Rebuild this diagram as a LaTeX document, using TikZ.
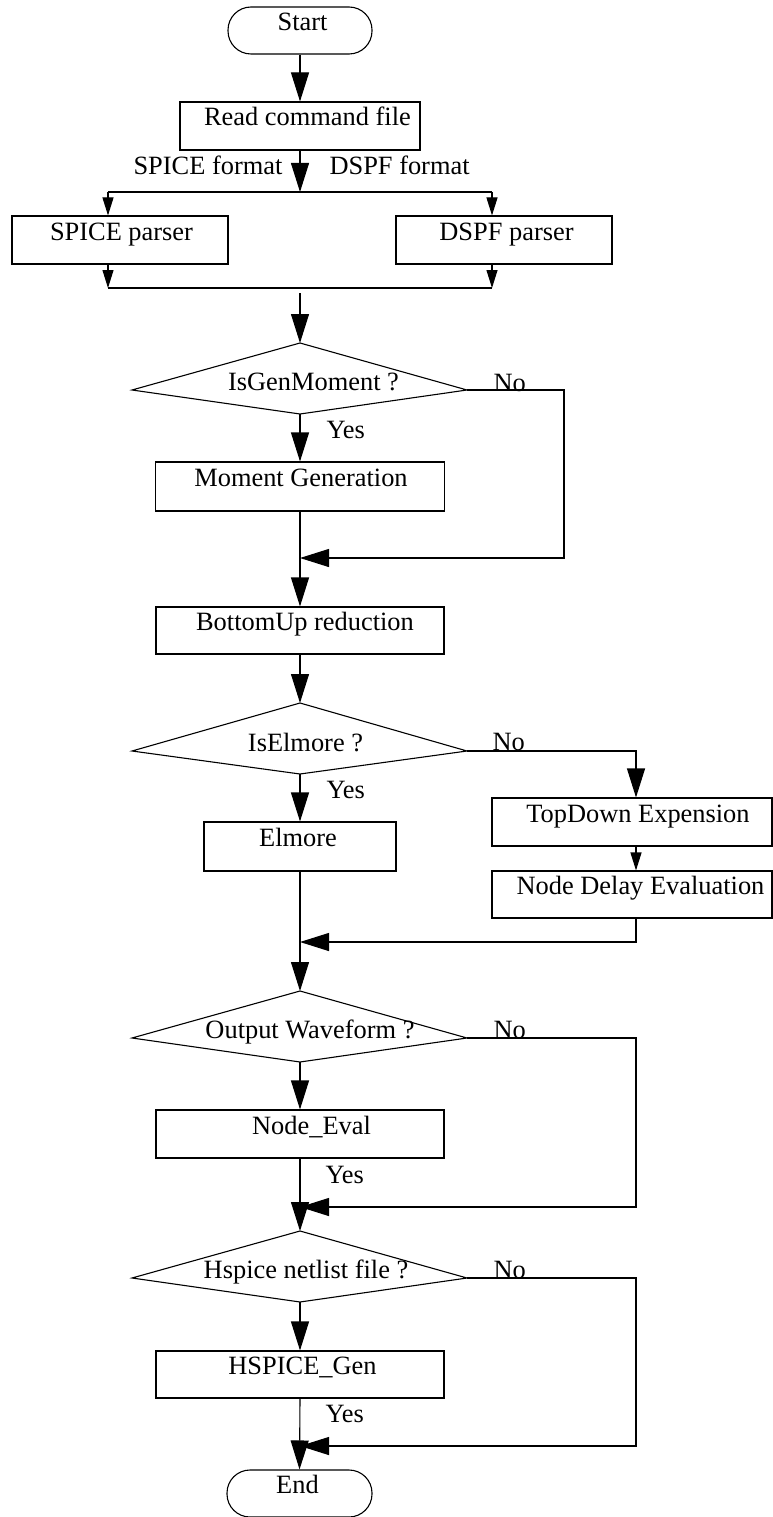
\documentclass[tikz,border=0pt]{standalone}
\usepackage{fontspec}
\setmainfont{Liberation Serif}
\usetikzlibrary{arrows.meta}
\newcommand\fsz{\fontsize{26.4pt}{30pt}\selectfont}
\begin{document}
\begin{tikzpicture}[x=1pt,y=-1pt,line width=1.1pt,
  every node/.style={font=\fsz},
  box/.style={draw,rectangle,inner sep=0pt,text height=10pt,text depth=10pt},
  term/.style={box,rounded corners=23pt},
  lbl/.style={anchor=base west,inner sep=0pt},
  qtxt/.style={anchor=base,inner sep=0pt},
  big/.style={-{Triangle[length=29pt,width=18pt]}},
  small/.style={-{Triangle[length=18pt,width=11pt]}},
  dia/.style={line join=miter}
]
\useasboundingbox (0,0) rectangle (773,1517);

% ---- nodes
\node[term,minimum width=144pt,minimum height=47pt] (start) at (300,30.5) {\hspace*{5pt}Start};
\node[box,minimum width=240pt,minimum height=48pt] (read) at (300,126) {\hspace*{15pt}Read command file};
\node[box,minimum width=216pt,minimum height=48pt] (spice) at (120,240) {\hspace*{3pt}SPICE parser};
\node[box,minimum width=216pt,minimum height=48pt] (dspf) at (504,240) {\hspace*{5pt}DSPF parser};
\node[box,minimum width=289pt,minimum height=49pt] (mg) at (300,486.5) {\hspace*{2pt}Moment Generation};
\node[box,minimum width=288pt,minimum height=47pt] (bu) at (300,630.5) {\hspace*{10pt}BottomUp reduction};
\node[box,minimum width=192pt,minimum height=49pt] (elm) at (300,846.5) {Elmore\hspace*{4pt}};
\node[box,minimum width=280pt,minimum height=48pt] (td) at (632,822) {\hspace*{12pt}TopDown Expension};
\node[box,minimum width=280pt,minimum height=47pt] (nd) at (632,894.5) {\hspace*{17pt}Node Delay Evaluation};
\node[box,minimum width=288pt,minimum height=48pt] (ne) at (300,1134) {\hspace*{23pt}Node\_Eval};
\node[box,minimum width=288pt,minimum height=47pt] (hg) at (300,1374.5) {\hspace*{5pt}HSPICE\_Gen};
\node[term,minimum width=145pt,minimum height=47pt] (end) at (299.5,1493.5) {End\hspace*{4pt}};

% ---- decisions
\coordinate (d1t) at (300,343); \coordinate (d1l) at (132,390);
\coordinate (d1r) at (467,390); \coordinate (d1b) at (300,414);
\draw[dia] (d1t) -- (d1r) -- (d1b) -- (d1l) -- cycle;
\node[qtxt] (q1) at (313.5,390) {IsGenMoment ?};

\coordinate (d2t) at (300,703); \coordinate (d2l) at (132,751);
\coordinate (d2r) at (467,751); \coordinate (d2b) at (300,774);
\draw[dia] (d2t) -- (d2r) -- (d2b) -- (d2l) -- cycle;
\node[qtxt] (q2) at (305.5,751) {IsElmore ?};

\coordinate (d3t) at (300,991); \coordinate (d3l) at (132,1038);
\coordinate (d3r) at (467,1038); \coordinate (d3b) at (300,1062);
\draw[dia] (d3t) -- (d3r) -- (d3b) -- (d3l) -- cycle;
\node[qtxt] (q3) at (310,1038) {Output Waveform ?};

\coordinate (d4t) at (300,1231); \coordinate (d4l) at (132,1278);
\coordinate (d4r) at (467,1278); \coordinate (d4b) at (300,1302);
\draw[dia] (d4t) -- (d4r) -- (d4b) -- (d4l) -- cycle;
\node[qtxt] (q4) at (306,1278) {Hspice netlist file ?};

% ---- helper coordinates
\coordinate (split) at (300,192);
\coordinate (sl) at (108,192); \coordinate (sr) at (492,192);
\coordinate (ml) at (108,288); \coordinate (mr) at (492,288);
\coordinate (mstart) at (300,293);
\coordinate (j1) at (300,558); \coordinate (c1) at (564,390);
\coordinate (j2) at (300,942); \coordinate (c2) at (636,942);
\coordinate (j3) at (300,1207); \coordinate (c3) at (636,1038);
\coordinate (j4) at (300,1446); \coordinate (c4) at (636,1278);

% ---- connectors
\draw[big] (start.south) -- (read.north);
\draw[big] (read.south) -- (split);
\draw (sl) -- (sr);
\draw[small] (sl) -- ([xshift=-12pt]spice.north);
\draw[small] (sr) -- ([xshift=-12pt]dspf.north);
\draw[small] ([xshift=-12pt]spice.south) -- (ml);
\draw[small] ([xshift=-12pt]dspf.south) -- (mr);
\draw (ml) -- (mr);
\draw[big] (mstart) -- (d1t);

\draw[big] (d1b) -- (mg.north);
\draw[big] (d1r) -- (c1) |- (j1);
\draw[big] (mg.south) -- (bu.north);
\draw[big] (bu.south) -- (d2t);

\draw[big] (d2b) -- (elm.north);
\draw[big] (d2r) -| ([xshift=4pt]td.north);
\draw[small] ([xshift=4pt]td.south) -- ([xshift=4pt]nd.north);
\draw[big] ([xshift=4pt]nd.south) -- (c2) -- (j2);
\draw[big] (elm.south) -- (d3t);

\draw[big] (d3b) -- (ne.north);
\draw[big] (d3r) -- (c3) |- (j3);
\draw[big] (ne.south) -- (d4t);

\draw[big] (d4b) -- (hg.north);
\draw[big] (d4r) -- (c4) |- (j4);
\draw[big] (hg.south) -- (end.north);

% ---- labels
\node[lbl] (lsf) at (133,175) {SPICE format};
\node[lbl] (ldf) at (329,175) {DSPF format};
\node[lbl] (y1) at (326,438) {Yes};
\node[lbl] (n1) at (493,391) {No};
\node[lbl] (y2) at (326,798) {Yes};
\node[lbl] (n2) at (492,750) {No};
\node[lbl] (n3) at (493,1038) {No};
\node[lbl] (y3) at (325,1183) {Yes};
\node[lbl] (n4) at (493,1278) {No};
\node[lbl] (y4) at (325,1422) {Yes};
\end{tikzpicture}
\end{document}
